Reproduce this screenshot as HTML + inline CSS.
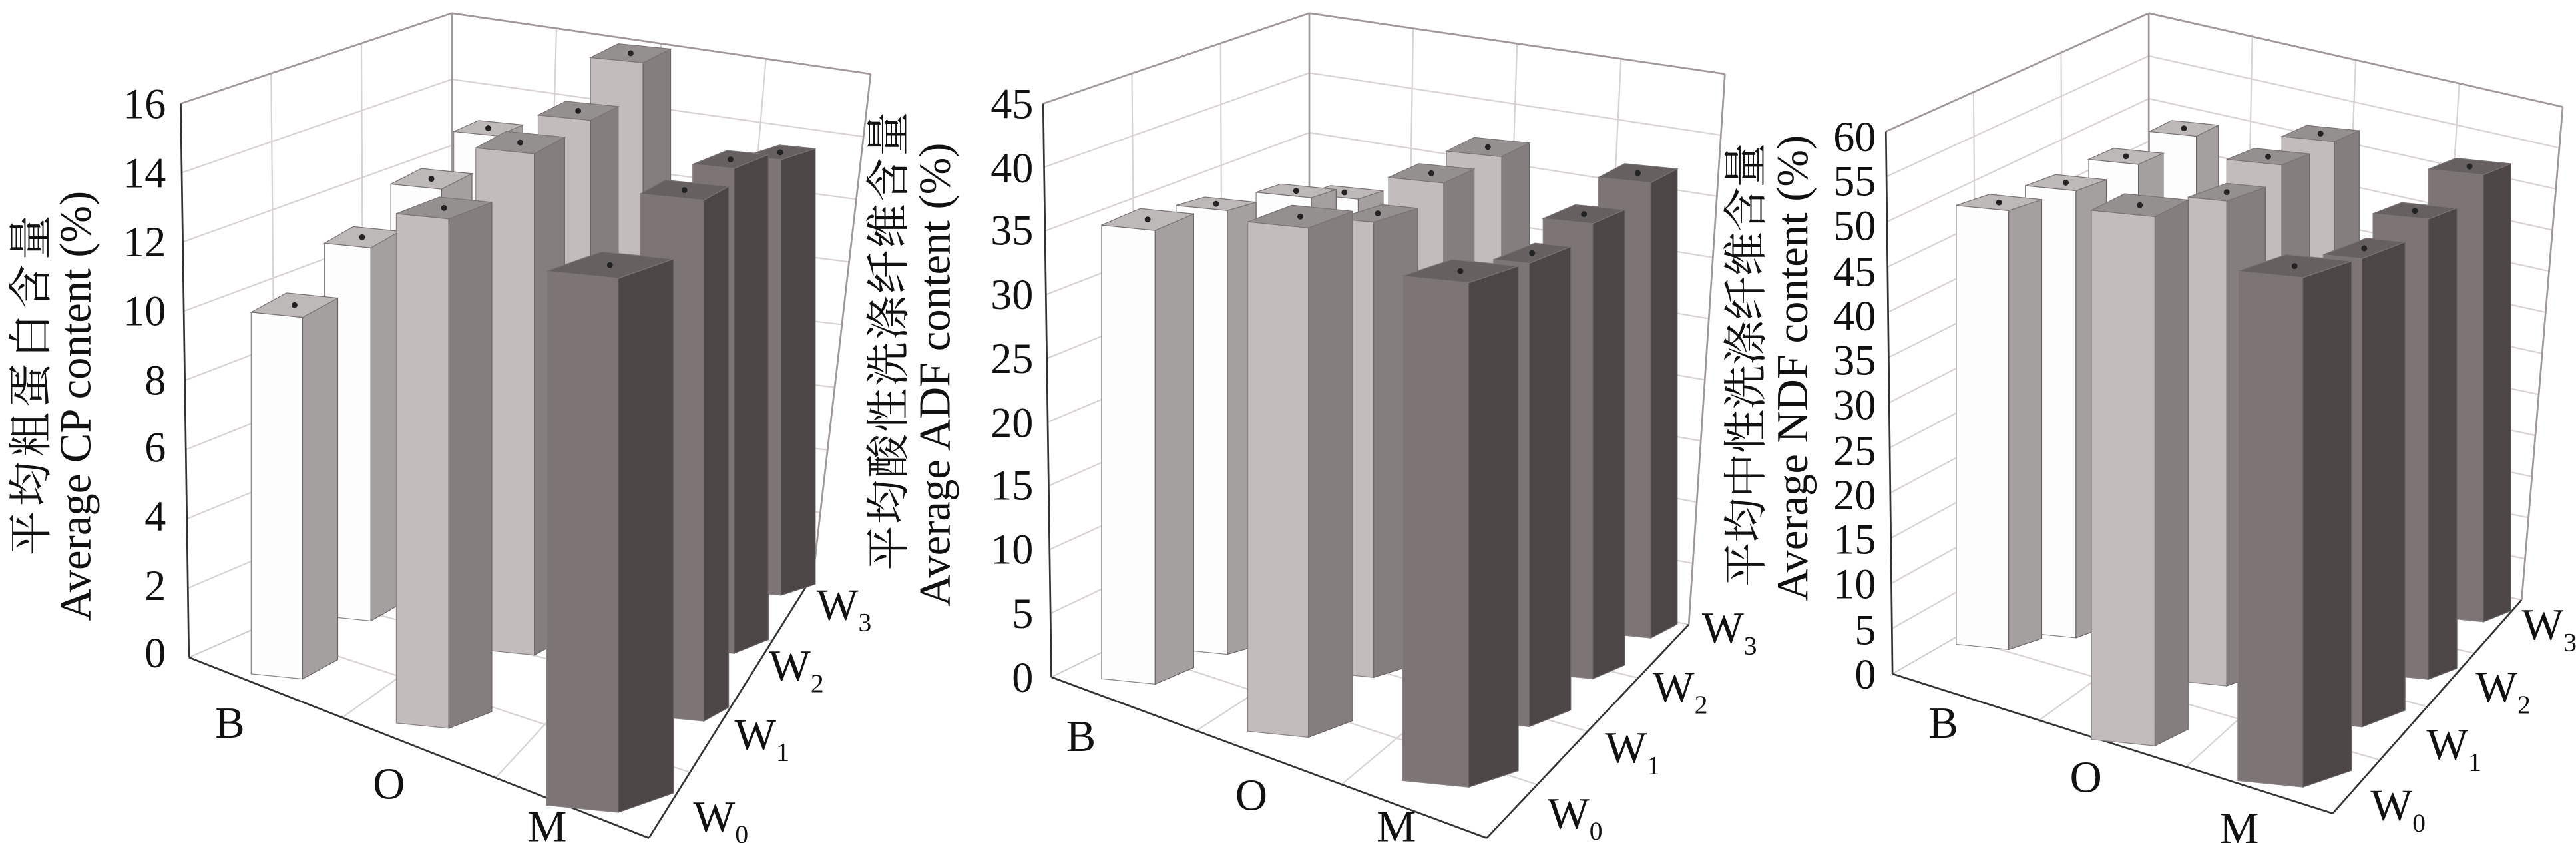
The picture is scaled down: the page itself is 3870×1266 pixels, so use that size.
<!DOCTYPE html>
<html><head><meta charset="utf-8"><style>
html,body{margin:0;padding:0;background:#fff;}
svg{display:block;}
text{font-family:"Liberation Serif","Noto Serif CJK SC",serif;fill:#111;}
</style></head><body>
<svg width="3870" height="1266" viewBox="0 0 3870 1266" xmlns="http://www.w3.org/2000/svg">
<g transform="scale(2.468)">
 <g id="grid"></g><g id="bars"></g>
 <!-- Panel 1 -->
 <g font-size="26" text-anchor="end">
  <text x="101" y="72">16</text><text x="101" y="114">14</text><text x="101" y="156">12</text><text x="101" y="198">10</text><text x="101" y="240">8</text><text x="101" y="281">6</text><text x="101" y="323">4</text><text x="101" y="365">2</text><text x="101" y="406">0</text>
 </g>
 <g font-size="27" text-anchor="middle">
  <text transform="translate(28,233) rotate(-90)" letter-spacing="3">平均粗蛋白含量</text>
  <text transform="translate(55,247) rotate(-90)">Average CP content (%)</text>
 </g>
 <g font-size="27">
  <text x="131" y="449">B</text><text x="227" y="486">O</text><text x="321" y="512">M</text>
  <text x="422" y="506">W<tspan font-size="16" dy="7">0</tspan></text>
  <text x="447" y="456">W<tspan font-size="16" dy="7">1</tspan></text>
  <text x="468" y="414">W<tspan font-size="16" dy="7">2</tspan></text>
  <text x="497" y="377">W<tspan font-size="16" dy="7">3</tspan></text>
 </g>
 <!-- Panel 2 -->
 <g font-size="26" text-anchor="end">
  <text x="629" y="72">45</text><text x="629" y="111">40</text><text x="629" y="149">35</text><text x="629" y="188">30</text><text x="629" y="227">25</text><text x="629" y="266">20</text><text x="629" y="304">15</text><text x="629" y="343">10</text><text x="629" y="382">5</text><text x="629" y="421">0</text>
 </g>
 <g font-size="27" text-anchor="middle">
  <text transform="translate(550,207) rotate(-90)" letter-spacing="1">平均酸性洗涤纤维含量</text>
  <text transform="translate(578,228) rotate(-90)">Average ADF content (%)</text>
 </g>
 <g font-size="27">
  <text x="649" y="457">B</text><text x="752" y="493">O</text><text x="838" y="512">M</text>
  <text x="942" y="504">W<tspan font-size="16" dy="7">0</tspan></text>
  <text x="977" y="464">W<tspan font-size="16" dy="7">1</tspan></text>
  <text x="1006" y="427">W<tspan font-size="16" dy="7">2</tspan></text>
  <text x="1036" y="391">W<tspan font-size="16" dy="7">3</tspan></text>
 </g>
 <!-- Panel 3 -->
 <g font-size="26" text-anchor="end">
  <text x="1142" y="92">60</text><text x="1142" y="119">55</text><text x="1142" y="146">50</text><text x="1142" y="174">45</text><text x="1142" y="201">40</text><text x="1142" y="228">35</text><text x="1142" y="255">30</text><text x="1142" y="283">25</text><text x="1142" y="310">20</text><text x="1142" y="337">15</text><text x="1142" y="364">10</text><text x="1142" y="392">5</text><text x="1142" y="419">0</text>
 </g>
 <g font-size="27" text-anchor="middle">
  <text transform="translate(1072,222) rotate(-90)" letter-spacing="0">平均中性洗涤纤维含量</text>
  <text transform="translate(1100,224) rotate(-90)">Average NDF content (%)</text>
 </g>
 <g font-size="27">
  <text x="1174" y="449">B</text><text x="1260" y="482">O</text><text x="1351" y="513">M</text>
  <text x="1443" y="499">W<tspan font-size="16" dy="7">0</tspan></text>
  <text x="1477" y="462">W<tspan font-size="16" dy="7">1</tspan></text>
  <text x="1507" y="427">W<tspan font-size="16" dy="7">2</tspan></text>
  <text x="1535" y="389">W<tspan font-size="16" dy="7">3</tspan></text>
 </g>
</g>
</svg>
<script>
var NS="http://www.w3.org/2000/svg";
function el(p,t,a){var e=document.createElementNS(NS,t);for(var k in a)e.setAttribute(k,a[k]);p.appendChild(e);return e;}
function L(a,b,t){return [a[0]+(b[0]-a[0])*t,a[1]+(b[1]-a[1])*t];}
var G=document.getElementById("grid");
function box(A,B,C,D,E,F,Gp,nh,nl,nr){
 function ln(p,q,c,w){el(G,"line",{x1:p[0],y1:p[1],x2:q[0],y2:q[1],stroke:c,"stroke-width":w});}
 var gc="#d8d2d2";
 for(var i=1;i<nh;i++){var t=i/nh;ln(L(A,D,t),L(B,C,t),gc,0.9);ln(L(B,C,t),L(E,F,t),gc,0.9);}
 for(var i=1;i<nl;i++){var t=i/nl;ln(L(A,B,t),L(D,C,t),gc,0.9);ln(L(D,Gp,t),L(C,F,t),gc,0.9);}
 for(var i=1;i<nr;i++){var t=i/nr;ln(L(B,E,t),L(C,F,t),gc,0.9);ln(L(D,C,t),L(Gp,F,t),gc,0.9);}
 var bc="#a09898";
 ln(A,B,bc,1.1);ln(B,E,bc,1.1);ln(B,C,bc,1.1);ln(E,F,bc,1.1);ln(C,F,"#d0caca",0.8);ln(C,D,"#d0caca",0.8);
 ln(A,D,"#333",1.1);ln(D,Gp,"#333",1.1);ln(Gp,F,"#333",1.1);
}
box([110,63],[275,8],[275,330],[115,400],[530,45],[495,350],[395,510],8,3,4);
box([635,63],[797,8],[797,335],[640,412],[1050,45],[1028,380],[905,510],9,3,4);
box([1148,80],[1308,8],[1308,320],[1152,410],[1560,65],[1535,365],[1420,495],12,3,4);
var COL={B:["#fdfdfd","#a5a0a0","#bdb9b9"],O:["#c2bcbc","#857e7e","#959090"],M:["#7d7575","#4d4646","#676060"]};
var BG=document.getElementById("bars");
function bars(off,list){
 list.forEach(function(b){
  var k=0.336,x=off+b[1]*k,w=b[2]*k,t=b[3],bt=b[4],sw=b[5]*k,sr=b[6]*k,c=COL[b[0]],tl=w*0.1;
  el(BG,"polygon",{points:[x,t,x+w,t+tl,x+w,bt+tl,x,bt].join(" "),fill:c[0],stroke:"#8a8484","stroke-width":0.5});
  el(BG,"polygon",{points:[x+w,t+tl,x+w+sw,t+tl-sr,x+w+sw,bt+tl-sr,x+w,bt+tl].join(" "),fill:c[1],stroke:"#6a6464","stroke-width":0.5});
  el(BG,"polygon",{points:[x,t,x+w,t+tl,x+w+sw,t+tl-sr,x+sw,t-sr].join(" "),fill:c[2],stroke:"#7a7474","stroke-width":0.5});
  el(BG,"circle",{cx:x+(w+sw)/2,cy:t+tl/2-sr/2,r:1.8,fill:"#222"});
 });
}
bars(0,[
 ["B",822,80,80,330,45,20],["O",1070,95,35,340,50,25],["M",1350,65,95,360,62,20],
 ["B",708,92,112,345,55,28],["O",975,95,70,360,50,25],["M",1255,75,100,395,62,25],
 ["B",588,84,148,375,52,30],["O",862,106,90,395,55,30],["M",1160,115,118,435,45,25],
 ["B",455,93,190,410,64,35],["O",718,95,130,440,78,30],["M",990,130,165,490,100,35]]);
bars(522.7,[
 ["B",810,95,118,335,45,15],["O",1065,100,92,340,50,25],["M",1340,95,108,385,48,25],
 ["B",720,100,117,340,45,15],["O",960,100,108,375,55,25],["M",1240,90,133,410,58,25],
 ["B",575,93,125,395,52,15],["O",868,65,133,410,80,25],["M",1150,65,158,440,75,30],
 ["B",440,97,137,413,70,30],["O",705,110,135,445,80,30],["M",985,120,168,475,90,30]]);
bars(1041.3,[
 ["B",795,85,80,320,40,20],["O",1035,95,83,330,45,20],["M",1300,100,103,375,50,20],
 ["B",685,90,97,340,45,20],["O",935,100,97,355,50,20],["M",1200,100,130,410,52,20],
 ["B",570,92,113,385,55,20],["O",865,70,120,415,70,25],["M",1110,70,155,440,78,30],
 ["B",445,95,125,392,60,20],["O",690,115,128,450,60,30],["M",955,118,165,475,88,30]]);
</script>
</body></html>
